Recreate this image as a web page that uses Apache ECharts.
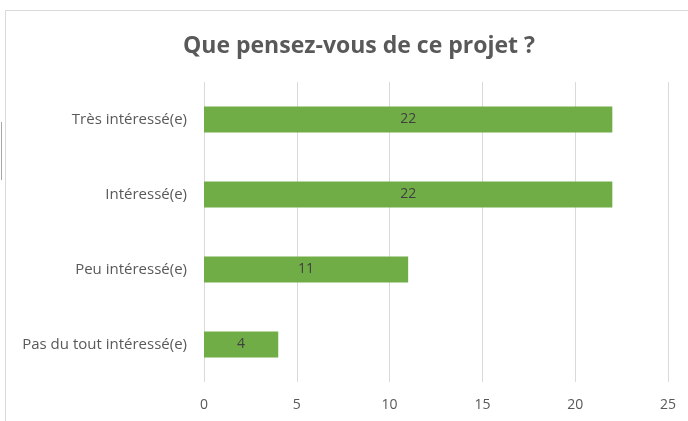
<!DOCTYPE html>
<html>
<head>
<meta charset="utf-8">
<script src="https://cdn.jsdelivr.net/npm/echarts@6/dist/echarts.min.js"></script>
<style>
  html, body { margin: 0; padding: 0; background: #fff; }
  #chart { width: 688px; height: 421px; }
</style>
</head>
<body>
<div id="chart"></div>
<script>
// categories listed top to bottom
let categories = ['Très intéressé(e)', 'Intéressé(e)', 'Peu intéressé(e)', 'Pas du tout intéressé(e)'];
let counts = [22, 22, 11, 4];
let xTicks = [0, 5, 10, 15, 20, 25];

let font = '"Open Sans", "Noto Sans", sans-serif';
let myChart = echarts.init(document.getElementById('chart'));
let option = {
    animation: false,
    backgroundColor: '#fff',
    title: {
        text: 'Que pensez-vous de ce projet ?',
        left: 354,
        textAlign: 'center',
        top: 30,
        textStyle: { fontFamily: font, fontSize: 23, fontWeight: 'bold', color: '#595959' }
    },
    graphic: [
        {
            type: 'rect',
            shape: { x: 5.5, y: 10.5, width: 700, height: 420 },
            style: { fill: 'none', stroke: '#d9d9d9', lineWidth: 1 },
            silent: true
        },
        {
            type: 'line',
            shape: { x1: 1.5, y1: 122, x2: 1.5, y2: 180 },
            style: { stroke: '#a6a6a6', lineWidth: 1 },
            silent: true
        }
    ],
    grid: { left: 204, right: 20, top: 82, height: 300 },
    xAxis: {
        type: 'value',
        min: xTicks[0],
        max: xTicks[xTicks.length - 1],
        interval: 5,
        axisLine: { show: false },
        axisTick: { show: false },
        splitLine: { show: true, lineStyle: { color: '#d9d9d9', width: 1 } },
        axisLabel: { margin: 16, fontFamily: font, fontSize: 14, color: '#595959' }
    },
    yAxis: {
        type: 'category',
        data: categories,
        inverse: true,
        axisLine: { show: false },
        axisTick: { show: false },
        axisLabel: { margin: 17, fontFamily: font, fontSize: 15, color: '#595959' }
    },
    series: [
        {
            type: 'bar',
            data: counts,
            barWidth: 26,
            itemStyle: { color: '#70ad47' },
            label: {
                show: true,
                position: 'inside',
                fontFamily: font,
                fontSize: 14,
                color: '#404040'
            }
        }
    ]
};
myChart.setOption(option);
</script>
</body>
</html>
